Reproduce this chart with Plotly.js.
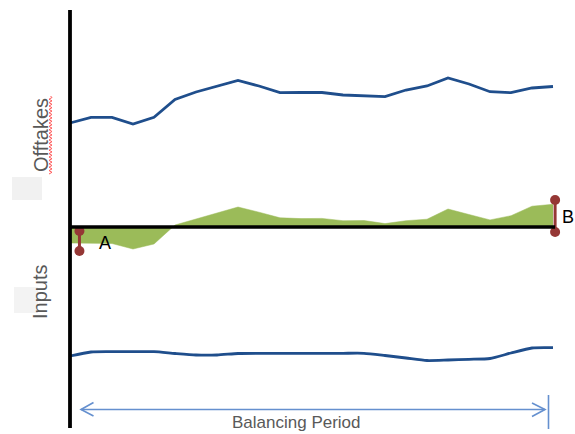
<!DOCTYPE html>
<html>
<head>
<meta charset="utf-8">
<script src="https://cdn.plot.ly/plotly-3.0.1.min.js"></script>
<style>
html,body{margin:0;padding:0;background:#fff;}
#chart{width:575px;height:434px;}
</style>
</head>
<body>
<div id="chart"></div>
<script>
// Time steps across the balancing period
var periods = [0,1,2,3,4,5,6,7,8,9,10,11,12,13,14,15,16,17,18,19,20,21,22,23];
// Offtakes (above zero line)
var offtakes = [104,109.7,109.7,103,109.7,127.5,135,141,146.5,141,134.3,134.5,134.5,132,131.5,130.3,137,141,149,143,135.3,134.3,139,140.5];
// Inputs (below zero line)
var inputs = [-129,-125,-124.7,-124.7,-124.7,-126.5,-128,-128,-126.5,-126.3,-126.3,-126.3,-126.3,-126.3,-126.3,-128.5,-131,-133.5,-133,-132.3,-131.5,-126,-121,-120.7];
// Imbalance (green area)
var imbalance = [-16,-16.5,-16.5,-22,-17,2,8,14,20,14.8,9.2,8.4,8.6,6.3,6.5,3.4,6.3,7.8,18,12.5,7.1,11.3,20.8,22.7];
// Opening / closing imbalance markers
var markA_x = [0.45,0.45];
var markA_y = [-4,-24];
var markB_x = [23.1,23.1];
var markB_y = [27,-5];

var W = 575, H = 434;
function px(x){return x/W;}
function py(y){return 1 - y/H;}

var navy = '#1f4e8c';
var traces = [
  {x: periods, y: imbalance, type:'scatter', mode:'lines', fill:'tozeroy',
   fillcolor:'#9bbb59', line:{color:'#9bbb59', width:0.5}, hoverinfo:'skip'},
  {x: periods, y: offtakes, type:'scatter', mode:'lines',
   line:{color:navy, width:2.8}, hoverinfo:'skip'},
  {x: periods, y: inputs, type:'scatter', mode:'lines',
   line:{color:navy, width:2.8, shape:'spline', smoothing:0.6}, hoverinfo:'skip'},
  {x: markA_x, y: markA_y, type:'scatter', mode:'lines+markers',
   line:{color:'#953735', width:3}, marker:{color:'#953735', size:10}, hoverinfo:'skip'},
  {x: markB_x, y: markB_y, type:'scatter', mode:'lines+markers',
   line:{color:'#953735', width:3}, marker:{color:'#953735', size:10}, hoverinfo:'skip'}
];

// red spell-check squiggle beside "Offtakes"
var sq = 'M' + px(50.5) + ',' + py(96);
for (var yy = 97.5, k = 0; yy <= 175; yy += 1.7, k++) {
  sq += ' L' + px(k % 2 ? 49 : 52) + ',' + py(yy);
}

var blue = '#6590cf';
var shapes = [
  // faint grey smudges
  {type:'rect', xref:'paper', yref:'paper', x0:px(12), x1:px(42), y0:py(200), y1:py(177),
   fillcolor:'rgba(215,215,215,0.35)', line:{width:0}, layer:'below'},
  {type:'rect', xref:'paper', yref:'paper', x0:px(14), x1:px(38), y0:py(313), y1:py(287),
   fillcolor:'rgba(215,215,215,0.3)', line:{width:0}, layer:'below'},
  // vertical axis
  {type:'line', xref:'x', yref:'paper', x0:0, x1:0, y0:py(10), y1:py(428),
   line:{color:'#000', width:3.8}},
  // zero line
  {type:'line', xref:'x', yref:'y', x0:0, x1:23.1, y0:0, y1:0,
   line:{color:'#000', width:3.6}},
  // squiggle
  {type:'path', xref:'paper', yref:'paper', path: sq, line:{color:'#ff5a5a', width:1}},
  // balancing period arrow
  {type:'line', xref:'paper', yref:'paper', x0:px(81), x1:px(545), y0:py(409.5), y1:py(409.5),
   line:{color:blue, width:1.6}},
  {type:'path', xref:'paper', yref:'paper',
   path:'M'+px(93.5)+','+py(402.5)+' L'+px(81)+','+py(409.5)+' L'+px(93.5)+','+py(416),
   line:{color:blue, width:1.6}},
  {type:'path', xref:'paper', yref:'paper',
   path:'M'+px(532)+','+py(403)+' L'+px(545)+','+py(409.5)+' L'+px(532)+','+py(416.5),
   line:{color:blue, width:1.6}},
  {type:'line', xref:'paper', yref:'paper', x0:px(548.5), x1:px(548.5), y0:py(395), y1:py(429),
   line:{color:blue, width:1.6}}
];

var fnt = 'Liberation Sans, Arial, sans-serif';
function ann(text, x, y, size, color, angle){
  return {text:text, xref:'paper', yref:'paper', x:px(x), y:py(y), textangle:angle||0,
    xanchor:'center', yanchor:'middle', showarrow:false,
    font:{family:fnt, size:size, color:color}};
}
var annotations = [
  ann('Offtakes', 41, 135, 20, '#595959', -90),
  ann('Inputs', 40, 292, 20, '#595959', -90),
  ann('A', 105, 243, 18, '#000'),
  ann('B', 568, 217, 18, '#000'),
  ann('Balancing Period', 296, 422, 17, '#595959')
];

var layout = {
  width: W, height: H,
  margin:{l:0, r:0, t:0, b:0, pad:0},
  paper_bgcolor:'#fff', plot_bgcolor:'#fff',
  showlegend:false,
  xaxis:{range:[-70/21, 505/21], visible:false, fixedrange:true},
  yaxis:{range:[-207, 227], visible:false, fixedrange:true},
  shapes: shapes,
  annotations: annotations
};

Plotly.newPlot('chart', traces, layout, {staticPlot:true, displayModeBar:false});
</script>
</body>
</html>
